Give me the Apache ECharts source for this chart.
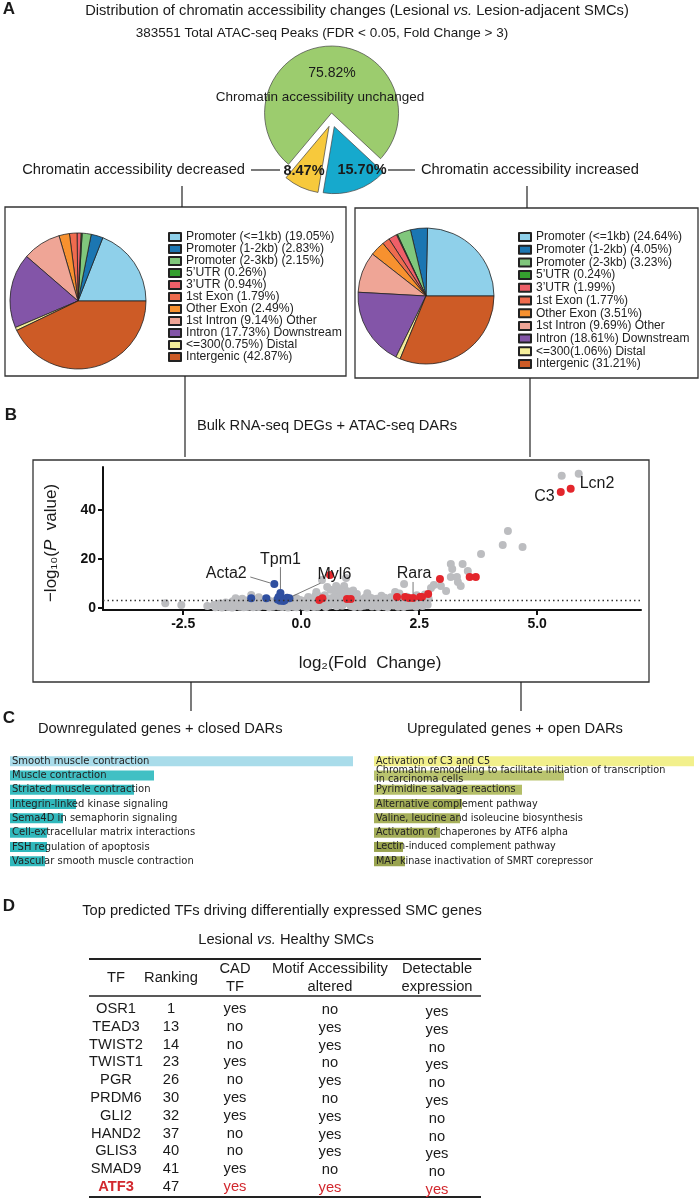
<!DOCTYPE html>
<html><head><meta charset="utf-8">
<script src="https://cdn.jsdelivr.net/npm/echarts@6/dist/echarts.min.js"></script>
<style>html,body{margin:0;padding:0;background:#fff}#c{width:699px;height:1199px}</style>
</head><body><div id="c"></div>
<script>
// ---------------- DATA ----------------
// Panel A: top pie
const topNames = ['Chromatin accessibility unchanged', 'Chromatin accessibility increased', 'Chromatin accessibility decreased'];
const topValues = [75.82, 15.70, 8.47];
// Panel A: genomic feature distribution
const featureTemplates = ['Promoter (<=1kb) ({v})', 'Promoter (1-2kb) ({v})', 'Promoter (2-3kb) ({v})', '5\u2019UTR ({v})', '3\u2019UTR ({v})', '1st Exon ({v})', 'Other Exon ({v})', '1st Intron ({v}) Other', 'Intron ({v}) Downstream', '<=300({v}) Distal', 'Intergenic ({v})'];
const decreasedValues = [19.05, 2.83, 2.15, 0.26, 0.94, 1.79, 2.49, 9.14, 17.73, 0.75, 42.87];
const increasedValues = [24.64, 4.05, 3.23, 0.24, 1.99, 1.77, 3.51, 9.69, 18.61, 1.06, 31.21];

// Panel B: volcano (log2FC, -log10 P)
const grayPoints = [
  [-2.88,2.0],[-2.54,1.2],[-1.99,0.8],
  [-1.85,1.2],[-1.78,0.6],[-1.72,1.8],[-1.65,0.9],[-1.6,2.3],[-1.55,0.4],[-1.5,1.5],[-1.45,2.8],[-1.42,0.7],[-1.39,4.0],
  [-1.35,1.9],[-1.3,0.5],[-1.26,2.5],[-1.2,1.2],[-1.15,3.1],[-1.1,0.6],[-1.06,5.3],[-1.05,2.0],[-1.0,1.0],[-0.95,2.9],
  [-0.9,0.4],[-0.86,1.7],[-0.8,2.4],[-0.76,0.8],[-0.7,3.3],[-0.66,1.4],[-0.6,0.5],[-0.56,2.2],[-0.5,1.0],[-0.45,2.8],
  [-0.4,0.4],[-0.36,1.7],[-0.3,3.0],[-0.25,0.8],[-0.2,2.2],[-0.15,1.2],[-0.1,0.3],[-0.05,2.6],[0.0,1.5],[0.05,0.6],
  [0.1,3.2],[0.15,2.0],[0.2,0.9],[0.25,3.8],[0.3,1.4],[0.32,6.5],[0.35,0.5],[0.4,2.6],[0.44,11.4],[0.45,1.8],[0.5,5.2],
  [0.55,3.5],[0.6,1.0],[0.62,7.5],[0.65,2.4],[0.7,4.5],[0.74,9.0],[0.75,0.7],[0.8,3.0],[0.85,6.0],[0.88,1.6],[0.91,9.0],
  [0.95,12.2],[0.95,2.2],[1.0,5.0],[1.05,0.8],[1.1,2.9],[1.15,1.4],[1.18,5.7],[1.2,3.6],[1.25,0.5],[1.3,2.3],[1.35,4.2],
  [1.4,1.1],[1.45,3.0],[1.5,0.6],[1.55,2.0],[1.6,3.8],[1.65,1.3],[1.7,2.7],[1.75,0.7],[1.8,3.3],[1.85,1.8],[1.9,4.4],
  [1.95,1.0],[1.99,6.5],[2.0,2.5],[2.05,0.5],[2.1,3.5],[2.15,1.6],[2.18,9.8],[2.2,2.8],[2.25,0.8],[2.3,1.9],[2.35,3.3],
  [2.4,1.2],[2.45,2.5],[2.5,3.6],[2.55,2.4],[2.6,1.6],[2.65,3.1],[2.75,8.2],[2.81,9.4],
  [-1.82,0.3],[-1.75,1.4],[-1.68,0.2],[-1.62,1.1],[-1.57,2.0],[-1.52,0.9],[-1.47,0.2],[-1.4,1.3],[-1.37,2.3],[-1.32,3.2],
  [-1.28,1.0],[-1.22,0.3],[-1.18,2.2],[-1.12,1.5],[-1.08,3.0],[-1.02,0.3],[-0.98,1.8],[-0.93,3.4],[-0.88,2.6],[-0.83,0.9],
  [-0.78,3.6],[-0.72,1.9],[-0.68,0.3],[-0.63,2.7],[-0.58,1.5],[-0.53,3.2],[-0.47,0.6],[-0.42,2.2],[-0.33,1.2],[-0.28,0.2],
  [-0.22,3.4],[-0.18,1.7],[-0.12,2.6],[-0.07,0.9],[-0.02,3.3],[0.03,2.1],[0.08,1.0],[0.12,0.2],[0.18,2.9],[0.22,1.6],
  [0.27,0.4],[0.33,3.0],[0.38,4.8],[0.42,1.2],[0.48,3.0],[0.52,0.4],[0.57,2.1],[0.63,4.0],[0.68,1.5],[0.72,6.6],
  [0.78,2.2],[0.82,4.6],[0.87,0.9],[0.92,3.4],[0.98,6.8],[1.02,1.9],[1.08,4.2],[1.12,0.4],[1.17,2.6],[1.22,1.8],
  [1.28,3.5],[1.33,0.9],[1.38,2.7],[1.43,1.9],[1.48,4.1],[1.53,1.2],[1.58,2.9],[1.63,0.4],[1.68,3.6],[1.73,1.9],
  [1.78,2.4],[1.83,0.3],[1.88,2.8],[1.93,3.6],[1.97,1.7],[2.02,3.0],[2.08,1.2],[2.12,2.2],[2.17,0.4],[2.22,3.6],
  [2.27,2.0],[2.32,0.9],[2.38,2.7],[2.43,0.5],[2.47,1.8],[2.52,2.9],[2.57,0.8],[2.62,2.4],[2.68,1.3],[2.7,3.8],
  [2.62,5.5],[2.45,5.2],[2.08,5.9],[1.7,5.0],[1.4,6.0],[1.1,7.2],[0.8,7.8],[0.55,8.6],[0.3,5.0],[0.15,4.5],
  [-0.1,4.0],[-0.9,4.4],[-1.25,3.8],
  [-1.7,0.4],[-1.58,1.3],[-1.44,0.3],[-1.33,1.6],[-1.16,0.4],[-0.97,0.6],[-0.84,2.9],[-0.62,1.0],[-0.38,1.4],[-0.16,0.5],
  [0.07,2.4],[0.21,3.3],[0.36,2.2],[0.53,1.2],[0.66,3.2],[0.79,1.1],[0.9,4.9],[1.04,2.6],[1.14,3.3],[1.27,1.2],
  [1.37,3.4],[1.52,3.6],[1.62,2.3],[1.77,4.2],[1.92,2.2],[2.06,4.0],[2.24,4.6],[2.36,1.5],[2.58,3.4],[2.66,2.0],
  [2.96,9.0],[3.07,6.9],[3.17,12.7],[3.17,18.0],[3.2,15.9],[3.3,12.7],[3.32,10.6],[3.38,9.0],[3.42,18.0],[3.53,15.1],
  [3.81,22.0],[4.27,25.7],[4.38,31.4],[4.69,24.9],[5.52,53.9],[5.88,54.7]
];
const downPoints = [[-1.06,4.0],[-0.74,4.0],[-0.57,9.8],[-0.44,6.1],[-0.5,3.5],[-0.45,3.0],[-0.4,3.8],[-0.35,3.2],[-0.3,4.2],[-0.25,4.0],[-0.48,4.5],[-0.38,2.9]];
const upPoints = [[0.38,3.3],[0.45,4.0],[0.61,13.5],[0.97,3.7],[1.05,3.7],[2.03,4.5],[2.2,4.5],[2.28,4.1],[2.37,4.1],[2.52,4.5],[2.56,4.5],[2.69,5.7],[2.94,11.8],[3.57,12.7],[3.7,12.7],[5.5,47.3],[5.71,48.6]];
const labelGenes = ['Acta2', 'Tpm1', 'Myl6', 'Rara', 'C3', 'Lcn2'];
const labelGeneX = [-0.57, -0.44, -0.25, 2.37, 5.5, 5.71];
const labelGeneY = [9.8, 6.1, 4.0, 4.1, 47.3, 48.6];
const xTicks = [-2.5, 0, 2.5, 5];
const yTicks = [0, 20, 40];
const pThreshold = 3;

// Panel C: pathway enrichment
const downPathways = ['Smooth muscle contraction', 'Muscle contraction', 'Striated muscle contraction', 'Integrin-linked kinase signaling', 'Sema4D in semaphorin signaling', 'Cell-extracellular matrix interactions', 'FSH regulation of apoptosis', 'Vascular smooth muscle contraction'];
const downScores = [34.3, 14.4, 12.4, 6.6, 5.3, 3.7, 3.7, 3.5];
const upPathways = ['Activation of C3 and C5', 'Chromatin remodeling to facilitate initiation of transcription\nin carcinoma cells', 'Pyrimidine salvage reactions', 'Alternative complement pathway', 'Valine, leucine and isoleucine biosynthesis', 'Activation of chaperones by ATF6 alpha', 'Lectin-induced complement pathway', 'MAP kinase inactivation of SMRT corepressor'];
const upScores = [32.0, 19.0, 14.8, 8.8, 8.6, 6.6, 2.9, 3.1];

// Panel D: table
const tableHeaders = [['TF'], ['Ranking'], ['CAD', 'TF'], ['Motif Accessibility', 'altered'], ['Detectable', 'expression']];
const tfNames = ['OSR1', 'TEAD3', 'TWIST2', 'TWIST1', 'PGR', 'PRDM6', 'GLI2', 'HAND2', 'GLIS3', 'SMAD9', 'ATF3'];
const tfRanking = [1, 13, 14, 23, 26, 30, 32, 37, 40, 41, 47];
const cadTF = ['yes', 'no', 'no', 'yes', 'no', 'yes', 'yes', 'no', 'no', 'yes', 'yes'];
const motifAltered = ['no', 'yes', 'yes', 'no', 'yes', 'no', 'yes', 'yes', 'yes', 'no', 'yes'];
const detectable = ['yes', 'yes', 'no', 'yes', 'no', 'yes', 'no', 'no', 'yes', 'no', 'yes'];
const highlightTF = 'ATF3';

// ---------------- STYLE ----------------
const FONT = 'Liberation Sans, Arial, Helvetica, sans-serif';
const topColors = ['#9ccc6e', '#16a9cd', '#f7c93c'];
const featureColors = ['#8fd0ea', '#1b76b2', '#80c77c', '#35a02f', '#ef5f68', '#ef6b4e', '#f7912f', '#efa596', '#8355a8', '#f4ee9a', '#cd5b26'];
const downBarColors = ['#a9dcea', '#41c0c4', '#36bbbf', '#30b8bc', '#30b8bc', '#30b8bc', '#30b8bc', '#30b8bc'];
const upBarColors = ['#f2f08c', '#bac46f', '#b4be68', '#a5af59', '#a6af5a', '#a3ac57', '#99a34f', '#99a34f'];
const FS = 14.7;

const leftNames = featureTemplates.map((t, i) => t.replace('{v}', decreasedValues[i].toFixed(2) + '%'));
const rightNames = featureTemplates.map((t, i) => t.replace('{v}', increasedValues[i].toFixed(2) + '%'));

function T(x, y, text, opt) {
  return { type: 'text', x: x, y: y, z: 100, silent: true,
    style: Object.assign({ text: text, fill: '#1a1a1a', fontSize: 13, fontFamily: FONT, align: 'center', verticalAlign: 'middle' }, opt || {}) };
}
function L(x1, y1, x2, y2, w, c) {
  return { type: 'line', z: 100, silent: true, shape: { x1: x1, y1: y1, x2: x2, y2: y2 }, style: { stroke: c || '#222', lineWidth: w || 1.2 } };
}
function R(x, y, w, h, lw) {
  return { type: 'rect', z: 1, silent: true, shape: { x: x, y: y, width: w, height: h }, style: { fill: 'none', stroke: '#333', lineWidth: lw || 1.3 } };
}
const rich = (size) => ({ n: { fontSize: size, fontFamily: FONT, fill: '#1a1a1a' }, i: { fontSize: size, fontFamily: FONT, fontStyle: 'italic', fill: '#1a1a1a' } });

const pieItem = (names, values, colors) => names.map((n, i) => ({ name: n, value: values[i], itemStyle: { color: colors[i] } }));

const chart = echarts.init(document.getElementById('c'));
const option = {
  animation: false,
  backgroundColor: '#fff',
  grid: [
    { left: 103, top: 467, width: 538, height: 143 },
    { left: 10, top: 754, width: 343, height: 114.4 },
    { left: 374, top: 754, width: 325, height: 114.4 }
  ],
  xAxis: [
    { type: 'value', gridIndex: 0, min: -4.2, max: 7.2,
      axisLine: { show: true, onZero: false, lineStyle: { color: '#111', width: 2 } },
      axisTick: { show: true, length: 5, customValues: xTicks, lineStyle: { color: '#111', width: 2 } },
      axisLabel: { customValues: xTicks, formatter: v => Number(v).toFixed(1), fontWeight: 'bold', fontSize: 14, color: '#111', fontFamily: FONT, margin: 7 },
      splitLine: { show: false } },
    { type: 'value', gridIndex: 1, min: 0, max: 34.3, show: false },
    { type: 'value', gridIndex: 2, min: 0, max: 32.5, show: false }
  ],
  yAxis: [
    { type: 'value', gridIndex: 0, min: -0.8, max: 57.5,
      axisLine: { show: true, onZero: false, lineStyle: { color: '#111', width: 2 } },
      axisTick: { show: true, length: 5, customValues: yTicks, lineStyle: { color: '#111', width: 2 } },
      axisLabel: { customValues: yTicks, fontWeight: 'bold', fontSize: 14, color: '#111', fontFamily: FONT, margin: 7 },
      splitLine: { show: false } },
    { type: 'category', gridIndex: 1, data: downPathways, inverse: true, show: false },
    { type: 'category', gridIndex: 2, data: upPathways, inverse: true, show: false }
  ],
  legend: [
    { data: leftNames, left: 168, top: 231, orient: 'vertical', icon: 'rect', itemWidth: 12, itemHeight: 8, itemGap: 0, padding: 0,
      selectedMode: false, textStyle: { fontSize: 12.2, lineHeight: 10, fontFamily: FONT, color: '#222' } },
    { data: rightNames, left: 518, top: 231, orient: 'vertical', icon: 'rect', itemWidth: 12, itemHeight: 8, itemGap: 0.7, padding: 0,
      selectedMode: false, textStyle: { fontSize: 12, lineHeight: 12, fontFamily: FONT, color: '#222' } }
  ],
  series: [
    { type: 'pie', center: [332, 120], radius: 67, startAngle: 230, clockwise: true,
      selectedMode: 'multiple', selectedOffset: 7, silent: true,
      label: { show: false }, labelLine: { show: false }, emphasis: { disabled: true },
      itemStyle: { borderColor: '#444', borderWidth: 0.7 },
      data: topNames.map((n, i) => ({ name: n, value: topValues[i], selected: true,
        itemStyle: { color: topColors[i] }, select: { itemStyle: { color: topColors[i], borderColor: '#444', borderWidth: 0.7 } } })) },
    { type: 'pie', center: [78, 301], radius: 68, startAngle: 0, clockwise: false, silent: true,
      label: { show: false }, labelLine: { show: false }, emphasis: { disabled: true },
      itemStyle: { borderColor: '#222', borderWidth: 0.8 },
      data: pieItem(leftNames, decreasedValues, featureColors) },
    { type: 'pie', center: [426, 296], radius: 68, startAngle: 0, clockwise: false, silent: true,
      label: { show: false }, labelLine: { show: false }, emphasis: { disabled: true },
      itemStyle: { borderColor: '#222', borderWidth: 0.8 },
      data: pieItem(rightNames, increasedValues, featureColors) },
    { type: 'scatter', xAxisIndex: 0, yAxisIndex: 0, symbolSize: 8, silent: true, data: grayPoints,
      itemStyle: { color: '#bcbdc0', opacity: 1 },
      markLine: { silent: true, symbol: ['none', 'none'], label: { show: false }, z: 10,
        lineStyle: { type: [1.5, 3], color: '#333', width: 1.3 }, data: [{ yAxis: pThreshold }] } },
    { type: 'scatter', xAxisIndex: 0, yAxisIndex: 0, symbolSize: 8, silent: true, data: downPoints, itemStyle: { color: '#2f4fa0', opacity: 1 } },
    { type: 'scatter', xAxisIndex: 0, yAxisIndex: 0, symbolSize: 8, silent: true, data: upPoints, itemStyle: { color: '#e3262c', opacity: 1 } },
    { type: 'bar', xAxisIndex: 1, yAxisIndex: 1, barWidth: 10, silent: true,
      data: downScores.map((v, i) => ({ value: v, itemStyle: { color: downBarColors[i] } })),
      label: { show: true, position: 'insideLeft', distance: 2, formatter: '{b}', color: '#222', fontSize: 10, fontFamily: 'DejaVu Sans, Verdana, sans-serif', lineHeight: 9.5 } },
    { type: 'bar', xAxisIndex: 2, yAxisIndex: 2, barWidth: 10, silent: true,
      data: upScores.map((v, i) => ({ value: v, itemStyle: { color: upBarColors[i] } })),
      label: { show: true, position: 'insideLeft', distance: 2, formatter: '{b}', color: '#222', fontSize: 9.7, fontFamily: 'DejaVu Sans, Verdana, sans-serif', lineHeight: 9 } }
  ]
};
chart.setOption(option);

// ---------------- GRAPHICS (text, boxes, connectors, table) ----------------
const g = [];
// panel letters
g.push(T(9, 9, 'A', { fontSize: 17, fontWeight: 'bold' }));
g.push(T(11, 415, 'B', { fontSize: 17, fontWeight: 'bold' }));
g.push(T(9, 718, 'C', { fontSize: 17, fontWeight: 'bold' }));
g.push(T(9, 906, 'D', { fontSize: 17, fontWeight: 'bold' }));

// Panel A texts
g.push(T(357, 11, '{n|Distribution of chromatin accessibility changes (Lesional }{i|vs.}{n| Lesion-adjacent SMCs)}', { rich: rich(FS) }));
g.push(T(322, 33, '383551 Total ATAC-seq Peaks (FDR < 0.05, Fold Change > 3)', { fontSize: 13.5 }));
g.push(T(332, 73, topValues[0].toFixed(2) + '%', { fontSize: 14 }));
g.push(T(320, 97, topNames[0], { fontSize: 13.5 }));
g.push(T(304, 171, topValues[2].toFixed(2) + '%', { fontSize: 14.5, fontWeight: 'bold' }));
g.push(T(362, 170, topValues[1].toFixed(2) + '%', { fontSize: 14.5, fontWeight: 'bold' }));
g.push(T(245, 170, topNames[2], { fontSize: FS, align: 'right' }));
g.push(T(421, 170, topNames[1], { fontSize: FS, align: 'left' }));
g.push(L(251, 170, 280, 170));
g.push(L(388, 170, 415, 170));
g.push(L(182, 186, 182, 207));
g.push(L(527, 186, 527, 208));
g.push(R(5, 207, 341, 169));
g.push(R(355, 208, 343, 170));
g.push(L(185, 376, 185, 457));
g.push(L(530, 378, 530, 457));

// Panel B texts
g.push(T(327, 426, 'Bulk RNA-seq DEGs + ATAC-seq DARs', { fontSize: FS }));
g.push(R(33, 460, 616, 222));
g.push(Object.assign(T(51, 543, '{n|\u2212log\u2081\u2080(}{i|P}{n|  value)}', { rich: rich(17) }), { rotation: Math.PI / 2 }));
g.push(T(370, 663, 'log\u2082(Fold  Change)', { fontSize: 17 }));
g.push(L(191, 682, 191, 711));
g.push(L(521, 682, 521, 711));

// Panel C headings
g.push(T(38, 729, 'Downregulated genes + closed DARs', { fontSize: FS, align: 'left' }));
g.push(T(407, 729, 'Upregulated genes + open DARs', { fontSize: FS, align: 'left' }));

// Panel D table
g.push(T(282, 911, 'Top predicted TFs driving differentially expressed SMC genes', { fontSize: FS }));
g.push(T(286, 940, '{n|Lesional }{i|vs.}{n| Healthy SMCs}', { rich: rich(FS) }));
g.push(L(89, 959, 481, 959, 2, '#222'));
g.push(L(89, 996, 481, 996, 1.6, '#222'));
g.push(L(89, 1197, 481, 1197, 2, '#222'));
const colX = [116, 171, 235, 330, 437];
const colDy = [0, 0, 0, 1, 3];
tableHeaders.forEach((h, c) => {
  if (h.length === 1) g.push(T(colX[c], 978, h[0], { fontSize: FS }));
  else { g.push(T(colX[c], 969, h[0], { fontSize: FS })); g.push(T(colX[c], 987, h[1], { fontSize: FS })); }
});
tfNames.forEach((tf, r) => {
  const y = 1009 + r * 17.8;
  const hi = tf === highlightTF;
  const col = hi ? '#d2282e' : '#1a1a1a';
  const cells = [tf, String(tfRanking[r]), cadTF[r], motifAltered[r], detectable[r]];
  cells.forEach((v, c) => {
    g.push(T(colX[c], y + colDy[c], v, { fontSize: FS, fill: (c === 1 ? '#1a1a1a' : col), fontWeight: (hi && c === 0) ? 'bold' : 'normal' }));
  });
});

// Volcano gene annotations (positions through the chart's own scales)
const geneLayout = {
  Acta2: { dx: -48, dy: -10, line: [-24, -7, -4, -1] },
  Tpm1: { dx: 0, dy: -33, line: [0, -26, 0, -4] },
  Myl6: { dx: 45, dy: -24, line: [31, -15, 3, -2] },
  Rara: { dx: 1, dy: -24, line: [0, -16, 0, -4] },
  C3: { dx: -6, dy: 5, align: 'right' },
  Lcn2: { dx: 9, dy: -5, align: 'left' }
};
labelGenes.forEach((name, i) => {
  const p = chart.convertToPixel({ gridIndex: 0 }, [labelGeneX[i], labelGeneY[i]]);
  const lay = geneLayout[name];
  g.push(T(p[0] + lay.dx, p[1] + lay.dy, name, { fontSize: 16, align: lay.align || 'center' }));
  if (lay.line) g.push(L(p[0] + lay.line[0], p[1] + lay.line[1], p[0] + lay.line[2], p[1] + lay.line[3], 0.8, '#555'));
});

chart.setOption({ graphic: { elements: g } });
</script></body></html>
